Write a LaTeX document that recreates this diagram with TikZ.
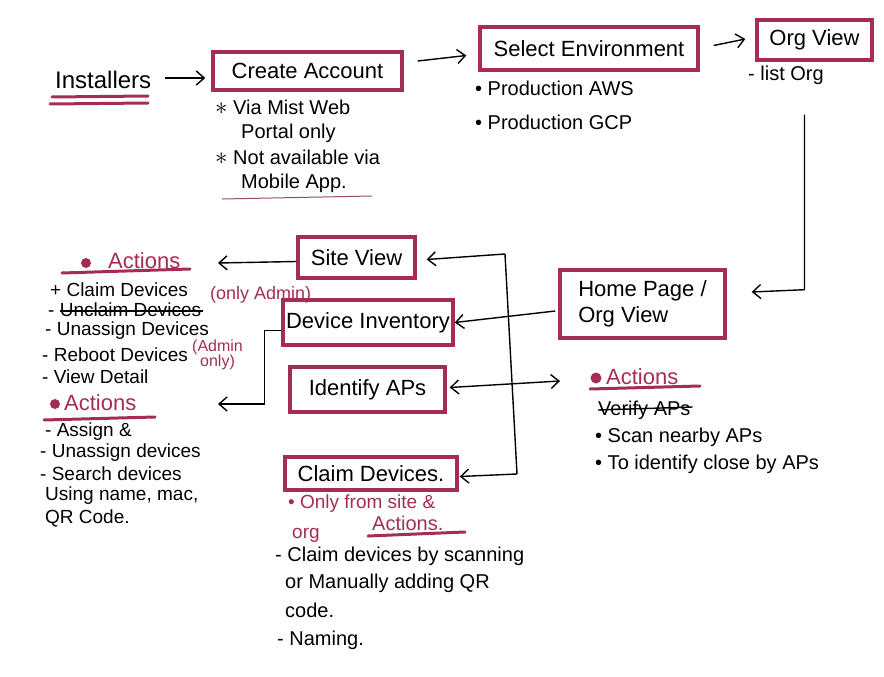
\documentclass[tikz,border=0pt]{standalone}
\usepackage{fontspec}
\setmainfont{Liberation Sans}
\usetikzlibrary{arrows.meta,calc}
\definecolor{crim}{RGB}{165,45,85}
\newcommand{\mystar}{{\fontsize{26}{24}\selectfont$\ast$}}
\begin{document}
\begin{tikzpicture}[x=1pt,y=-1pt,
  box/.style={draw=crim, line width=3.4pt, inner sep=0pt, font=\fontsize{22}{26}\selectfont, align=center},
  lbl/.style={inner sep=0pt, font=\fontsize{24}{28}\selectfont},
  note/.style={inner sep=0pt, font=\fontsize{20}{24}\selectfont, align=left},
  li/.style={inner sep=0pt, font=\fontsize{19}{22}\selectfont, anchor=west},
  cnote/.style={inner sep=0pt, font=\fontsize{19}{22}\selectfont, text=crim, anchor=west},
  hd/.style={inner sep=0pt, font=\fontsize{22}{26}\selectfont, text=crim, anchor=west},
  small/.style={inner sep=0pt, font=\fontsize{16}{15}\selectfont, text=crim, anchor=west, align=center},
  arr/.style={-{Straight Barb[length=8pt,width=14pt]}, line width=1.4pt},
  arrb/.style={{Straight Barb[length=8pt,width=14pt]}-{Straight Barb[length=8pt,width=14pt]}, line width=1.4pt},
  ln/.style={line width=1.4pt},
  ul/.style={draw=crim, line width=3pt, line cap=round},
  strike/.style={line width=1.4pt}
]
\fill[white] (0,0) rectangle (884,677);
\path[use as bounding box] (0,0) rectangle (884,677);

% ---- top row
\node[lbl, anchor=west] (inst) at (55,80) {Installers};
\draw[ul] (52,97) -- (148,96);
\draw[ul] (50,104) -- (148,103);

\node[box, minimum width=189pt, minimum height=38pt] (create) at (307.5,71) {Create Account};
\node[box, minimum width=218pt, minimum height=43pt] (select) at (589,48.5) {Select Environment};
\node[box, minimum width=115pt, minimum height=40pt] (org) at (814.5,40) {Org View};

\draw[arr] ($(inst.east)+(14,-2)$) -- ($(create.west)+(-6,7)$);
\draw[arr] ($(create.east)+(14,-10)$) -- ($(select.west)+(-12,7)$);
\draw[arr] ($(select.east)+(14,-3)$) -- ($(org.west)+(-10,-1)$);

\node[note, anchor=north west] (n1) at (215,100) {\mystar\ Via Mist Web\\\hspace*{1.3em}Portal only};
\node[note, anchor=north west] (n2) at (215,150) {\mystar\ Not available via\\\hspace*{1.3em}Mobile App.};
\draw[crim!60!gray, line width=1pt] (222,199) -- (372,196);

\node[note, anchor=west] (aws) at (475,88) {\textbullet\ Production AWS};
\node[note, anchor=west] (gcp) at (475,122) {\textbullet\ Production GCP};
\node[note, anchor=west] (lorg) at (748,75) {- list Org};

% ---- home page
\node[box, minimum width=165pt, minimum height=68pt, align=left] (home) at (642.5,304) {Home Page /\\Org View};
\draw[arr] ($(org.south)+(-10,53)$) -- ++(0,175) -- ($(home.east)+(25,-12)$);

% ---- middle boxes
\node[box, minimum width=117pt, minimum height=41pt] (site) at (356.5,257.5) {Site View};
\node[box, minimum width=170pt, minimum height=45pt] (dev) at (368,322.5) {Device Inventory};
\node[box, minimum width=155pt, minimum height=45pt] (ident) at (367.5,389.5) {Identify APs};
\node[box, minimum width=172pt, minimum height=33pt] (claim) at (371,473.5) {Claim Devices.};

\draw[arr] ($(home.west)+(-3,7)$) -- (dev.east);
\coordinate (bt) at (505,254);
\coordinate (bb) at (517,474);
\draw[ln] (bt) -- (bb);
\draw[arr] (bt) -- ($(site.east)+(10,2)$);
\draw[arr] (bb) -- ($(claim.east)+(1,3)$);
\coordinate (ra0) at (560,381);
\draw[arrb] ($(ident.east)+(3,-2)$) -- (ra0);

\coordinate (la1) at (218,263);
\draw[arr] ($(site.west)+(0,4)$) -- (la1);
\coordinate (la2) at (218,404);
\draw[arr] ($(dev.west)+(0,8)$) -- ++(-17,0) |- (la2);

% ---- left actions 1
\fill[crim] (86,263) circle (5);
\node[hd] (a1) at (108,261) {Actions};
\draw[ul] (62,273) -- (190,269);
\node[li] (i1) at (50,290) {+ Claim Devices};
\node[li] (i2) at (48,310) {- Unclaim Devices};
\draw[strike] ($(i2.west)+(12,1)$) -- ($(i2.east)+(2,1)$);
\node[small, font=\fontsize{18}{18}\selectfont] (oa) at (210,295) {(only Admin)};
\node[li] (i3) at (45,331) {- Unassign Devices};
\node[li] (i4) at (42,355) {- Reboot Devices};
\node[small] (ao) at (192,355) {(Admin\\only)};
\node[li] (i5) at (42,377) {- View Detail};

% ---- left actions 2
\fill[crim] (55,404) circle (5);
\node[hd] (a2) at (64,403) {Actions};
\draw[ul] (44,420) -- (155,417);
\node[li] (j1) at (45,432) {- Assign \&};
\node[li] (j2) at (40,453) {- Unassign devices};
\node[li] (j3) at (40,474) {- Search devices};
\node[li] (j4) at (45,496) {Using name, mac,};
\node[li] (j5) at (45,518) {QR Code.};

% ---- right actions
\fill[crim] (596,378) circle (5.5);
\node[hd] (a3) at (606,377) {Actions};
\draw[ul] (590,389) -- (700,386);
\node[note, anchor=west] (ver) at (598,410) {Verify APs};
\draw[strike] ($(ver.west)+(0,0)$) -- ($(ver.east)+(2,-3)$);
\node[note, anchor=west] (scan) at (595,437) {\textbullet\ Scan nearby APs};
\node[note, anchor=west] (close) at (595,464) {\textbullet\ To identify close by APs};

% ---- claim devices notes
\node[cnote] (c1) at (288,504) {\textbullet\ Only from site \&};
\node[cnote] (c2) at (292,535) {org};
\node[hd, font=\fontsize{20}{24}\selectfont] (a4) at (372,523) {Actions.};
\draw[ul] (368,536) -- (465,532);
\node[li, font=\fontsize{20}{24}\selectfont] (k1) at (275,556) {- Claim devices by scanning};
\node[li, font=\fontsize{20}{24}\selectfont] (k2) at (285,583) {or Manually adding QR};
\node[li, font=\fontsize{20}{24}\selectfont] (k3) at (285,610) {code.};
\node[li, font=\fontsize{20}{24}\selectfont] (k4) at (277,640) {- Naming.};
\end{tikzpicture}
\end{document}
